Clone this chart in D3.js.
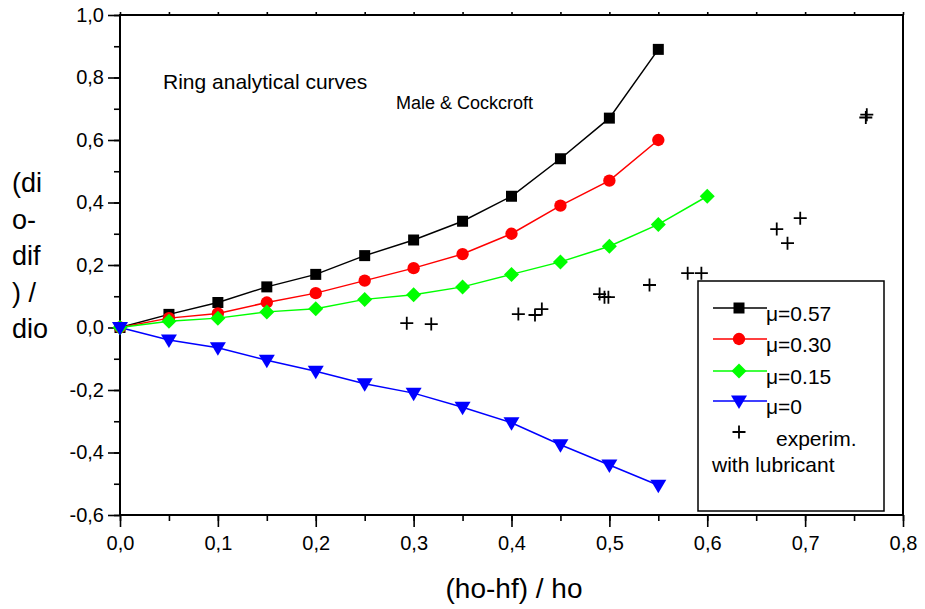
<!DOCTYPE html>
<html><head><meta charset="utf-8">
<script src="https://cdn.jsdelivr.net/npm/d3@7"></script>
<style>body{margin:0;background:#fff}svg text{font-family:"Liberation Sans",Arial,sans-serif}</style>
</head><body><svg id="c" width="925" height="609"></svg>
<script>
const xCurve = [0,0.05,0.1,0.15,0.2,0.25,0.3,0.35,0.4,0.45,0.5,0.55];
const mu057 = [0,0.042,0.08,0.13,0.17,0.23,0.28,0.34,0.42,0.54,0.67,0.89];
const mu030 = [0,0.03,0.045,0.08,0.11,0.15,0.19,0.235,0.30,0.39,0.47,0.60];
const xCurve015 = [0,0.05,0.1,0.15,0.2,0.25,0.3,0.35,0.4,0.45,0.5,0.55,0.6];
const mu015 = [0,0.02,0.03,0.05,0.06,0.09,0.105,0.13,0.17,0.21,0.26,0.33,0.42];
const mu0 = [0,-0.04,-0.065,-0.105,-0.14,-0.18,-0.21,-0.255,-0.305,-0.375,-0.44,-0.505];
const expX = [0.293,0.318,0.407,0.424,0.431,0.490,0.495,0.499,0.541,0.580,0.594,0.671,0.682,0.695,0.762,0.763];
const expY = [0.014,0.011,0.043,0.040,0.059,0.107,0.097,0.097,0.136,0.174,0.174,0.315,0.270,0.350,0.672,0.681];
const xTicks = [0,0.1,0.2,0.3,0.4,0.5,0.6,0.7,0.8];
const yTicks = [-0.6,-0.4,-0.2,0,0.2,0.4,0.6,0.8,1.0];
const legendLabels = ["μ=0.57","μ=0.30","μ=0.15","μ=0"];

const svg = d3.select("#c");
const L=120,R=903,T=15,B=515;
const x = d3.scaleLinear().domain([0,0.8]).range([L,R]);
const y = d3.scaleLinear().domain([-0.6,1.0]).range([B,T]);
const fmt = d => d3.format(".1f")(d).replace(".",",").replace("−","-");

svg.append("rect").attr("x",L).attr("y",T).attr("width",R-L).attr("height",B-T)
  .attr("fill","none").attr("stroke","#000").attr("stroke-width",2);

const xa = svg.append("g").attr("transform",`translate(0,${B})`)
  .call(d3.axisBottom(x).tickValues(d3.range(0,0.801,0.05)).tickSize(6).tickFormat(""));
const xb = svg.append("g").attr("transform",`translate(0,${B})`)
  .call(d3.axisBottom(x).tickValues(xTicks).tickSize(12).tickFormat(fmt).tickPadding(9));
const ya = svg.append("g").attr("transform",`translate(${L},0)`)
  .call(d3.axisLeft(y).tickValues(d3.range(-0.6,1.001,0.1)).tickSize(6).tickFormat(""));
const yb = svg.append("g").attr("transform",`translate(${L},0)`)
  .call(d3.axisLeft(y).tickValues(yTicks).tickSize(12).tickFormat(fmt).tickPadding(4));
const xt = svg.append("g").attr("transform",`translate(0,${T})`)
  .call(d3.axisTop(x).tickValues(d3.range(0,0.801,0.05)).tickSize(3).tickFormat(""));
[xa,xb,ya,yb,xt].forEach(g=>{g.select(".domain").remove();g.selectAll("line").attr("stroke","#000").attr("stroke-width",1.6);});
xb.selectAll("text").attr("font-size",20).attr("fill","#000");
yb.selectAll("text").attr("font-size",20).attr("fill","#000");

const diamond = "M0,-7.5L7.5,0L0,7.5L-7.5,0Z";
const triDown = "M-8,-5.5L8,-5.5L0,8Z";
const series = [
  {xs:xCurve, ys:mu057, color:"#000000", path:d3.symbol().type(d3.symbolSquare).size(121)()},
  {xs:xCurve, ys:mu030, color:"#ff0000", path:d3.symbol().type(d3.symbolCircle).size(120)()},
  {xs:xCurve015, ys:mu015, color:"#00ff00", path:diamond},
  {xs:xCurve, ys:mu0, color:"#0000ff", path:triDown}
];

const line = d3.line().x(d=>x(d[0])).y(d=>y(d[1]));
series.forEach(sr=>{
  const pts = sr.xs.map((v,i)=>[v,sr.ys[i]]);
  svg.append("path").attr("d",line(pts)).attr("fill","none").attr("stroke",sr.color).attr("stroke-width",1.5);
});
series.forEach(sr=>{
  const pts = sr.xs.map((v,i)=>[v,sr.ys[i]]);
  svg.selectAll(null).data(pts).enter().append("path")
    .attr("transform",d=>`translate(${x(d[0])},${y(d[1])})`)
    .attr("d",sr.path).attr("fill",sr.color);
});

const plus = "M-6.5,0H6.5M0,-6.5V6.5";
svg.selectAll(null).data(expX.map((v,i)=>[v,expY[i]])).enter().append("path")
  .attr("transform",d=>`translate(${x(d[0])},${y(d[1])})`)
  .attr("d",plus).attr("stroke","#000").attr("stroke-width",1.8).attr("fill","none");

svg.append("text").attr("x",163).attr("y",89).attr("font-size",21).text("Ring analytical curves");
svg.append("text").attr("x",396).attr("y",109).attr("font-size",18).text("Male & Cockcroft");

["(di","o-","dif",") /","dio"].forEach((t,i)=>{
  svg.append("text").attr("x",12).attr("y",192+i*36.5).attr("font-size",27).text(t);
});
svg.append("text").attr("x",514).attr("y",598).attr("text-anchor","middle").attr("font-size",28).text("(ho-hf) / ho");

const lg = svg.append("g");
lg.append("rect").attr("x",698).attr("y",281).attr("width",186).attr("height",230)
  .attr("fill","#fff").attr("stroke","#000").attr("stroke-width",1.5);
const rowsY = [308,339,371,401];
series.forEach((sr,i)=>{
  lg.append("line").attr("x1",713).attr("x2",767).attr("y1",rowsY[i]).attr("y2",rowsY[i])
    .attr("stroke",sr.color).attr("stroke-width",1.5);
  lg.append("path").attr("transform",`translate(739,${rowsY[i]})`).attr("d",sr.path).attr("fill",sr.color);
  lg.append("text").attr("x",766).attr("y",rowsY[i]+13).attr("font-size",21).text(legendLabels[i]);
});
lg.append("path").attr("transform","translate(739,432)").attr("d",plus).attr("stroke","#000").attr("stroke-width",1.8);
lg.append("text").attr("x",776).attr("y",446).attr("font-size",21).text("experim.");
lg.append("text").attr("x",712).attr("y",472).attr("font-size",21).text("with lubricant");
</script></body></html>
